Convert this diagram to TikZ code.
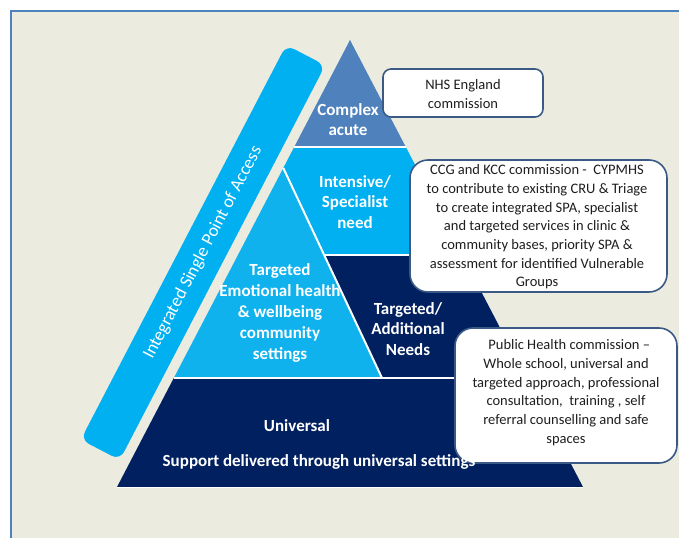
\documentclass[tikz,border=0pt]{standalone}
\usepackage{fontspec}
\setmainfont{Carlito}
\definecolor{bg}{HTML}{ECEBE0}
\definecolor{frameblue}{HTML}{4F81BD}
\definecolor{barblue}{HTML}{00B0F0}
\definecolor{cplx}{HTML}{4F81BD}
\definecolor{navy}{HTML}{002060}
\definecolor{lblue}{HTML}{00B0F0}
\definecolor{lblue2}{HTML}{10B2EE}
\definecolor{boxline}{HTML}{3A5A85}
\definecolor{boxtext}{HTML}{1E1E1E}
\begin{document}
\begin{tikzpicture}[x=1pt,y=-1pt,
  pyrtext/.style={text=white, align=center, font=\bfseries\fontsize{17}{20.8}\selectfont, inner sep=0pt},
  sep/.style={white, line width=2pt},
  callout/.style={draw=boxline, line width=1.6pt, fill=white, rounded corners=#1, inner sep=0pt},
  calltext/.style={text=boxtext, align=center, font=\fontsize{14.5}{18.7}\selectfont, inner sep=0pt}]
\useasboundingbox (0,0) rectangle (679,538);
\fill[white] (0,0) rectangle (679,538);
\fill[bg] (11,11) rectangle (679,538);
\draw[frameblue, line width=2.4pt] (11,538) -- (11,11) -- (679,11);

% pyramid vertices
\coordinate (apex) at (350,40);
\coordinate (bl) at (117,487);
\coordinate (br) at (583,487);
\coordinate (c1l) at (294.2,147);
\coordinate (c1r) at (405.8,147);
\coordinate (iap) at (283.3,168);
\coordinate (i2l) at (324.6,255);
\coordinate (i2r) at (462.1,255);
\coordinate (u1l) at (173.8,378);
\coordinate (u1m) at (382,378);
\coordinate (u1r) at (526.2,378);

\fill[cplx] (apex) -- (c1r) -- (c1l) -- cycle;
\fill[lblue] (c1l) -- (c1r) -- (i2r) -- (i2l) -- (iap) -- cycle;
\fill[lblue2] (iap) -- (u1m) -- (u1l) -- cycle;
\fill[navy] (i2l) -- (i2r) -- (u1r) -- (u1m) -- cycle;
\fill[navy] (u1l) -- (u1r) -- (br) -- (bl) -- cycle;
\draw[sep] (c1l) -- (c1r);
\draw[sep] (i2l) -- (i2r);
\draw[sep] (iap) -- (u1m);
\draw[sep] (u1l) -- (u1r);
\draw[white, line width=1pt] (bl) -- (br);

% side bar with its label
\node[fill=barblue, rounded corners=9pt, rotate=62.5, minimum width=445pt, minimum height=44pt, inner sep=0pt,
      text=white, font=\fontsize{18}{20}\selectfont] (bar) at (203,252.5) {Integrated Single Point of Access};

% pyramid labels
\node[pyrtext] (complex) at (348,119.5) {Complex\\acute};
\node[pyrtext] (intensive) at (355,202) {Intensive/\\Specialist\\need};
\node[pyrtext] (targeted) at (280,313) {Targeted\\Emotional health\\\& wellbeing\\community\\settings};
\node[pyrtext] (additional) at (408,329) {Targeted/\\Additional\\Needs};
\node[pyrtext] (universal) at (297,425.7) {Universal};

% callouts
\node[callout=8pt, minimum width=160pt, minimum height=48pt] (nhsbox) at (463,93) {};
\node[calltext] (nhs) at (463,94) {NHS England\\commission};
\node[callout=18pt, minimum width=257pt, minimum height=132pt] (ccgbox) at (538.5,226) {};
\node[calltext] (ccg) at (537,227) {CCG and KCC commission -\ \ CYPMHS\\to contribute to existing CRU \& Triage\\to create integrated SPA, specialist\\and targeted services in clinic \&\\community bases, priority SPA \&\\assessment for identified Vulnerable\\Groups};
\node[callout=18pt, minimum width=222pt, minimum height=135pt] (phbox) at (566,395.5) {};
\node[calltext] (ph) at (566,392.5) {\ \ Public Health commission --\\Whole school, universal and\\targeted approach, professional\\consultation, \ training , self\\referral counselling and safe\\spaces};

\node[pyrtext] (support) at (319,462.3) {Support delivered through universal settings};
\end{tikzpicture}
\end{document}
